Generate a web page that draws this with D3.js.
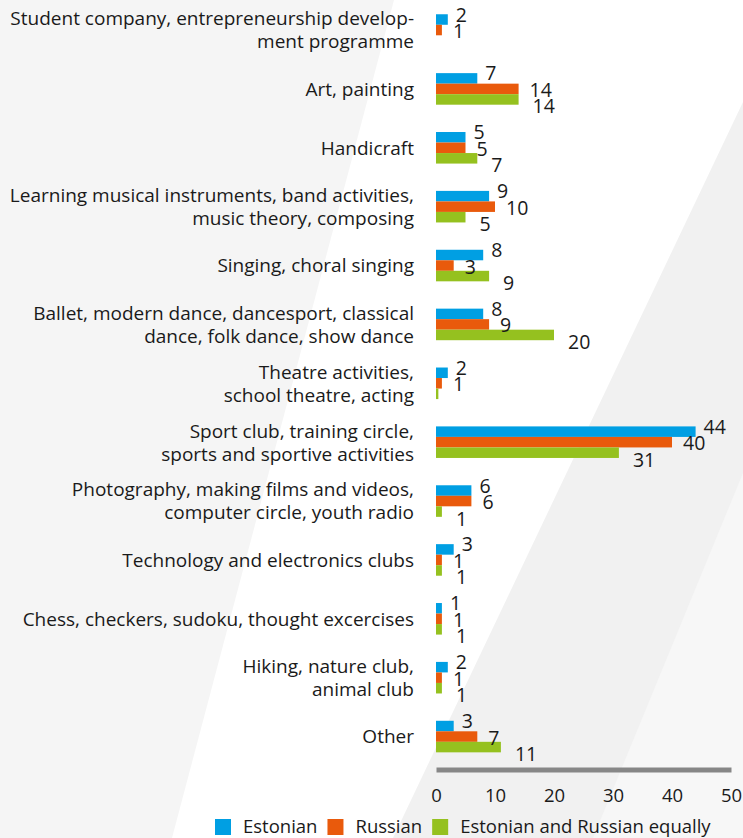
<!DOCTYPE html>
<html>
<head>
<meta charset="utf-8">
<script src="https://cdn.jsdelivr.net/npm/d3@7"></script>
<style>
  html, body { margin: 0; padding: 0; background: #fff; }
  svg { display: block; }
  text { font-family: "Open Sans", "Noto Sans", sans-serif; fill: #1a1a1a; }
</style>
</head>
<body>
<svg id="chart" width="743" height="838"></svg>
<script>
// Hobby groups, one entry per row (lines of each label split by "|")
const categories = [
  "Student company, entrepreneurship develop-|ment programme",
  "Art, painting",
  "Handicraft",
  "Learning musical instruments, band activities,|music theory, composing",
  "Singing, choral singing",
  "Ballet, modern dance, dancesport, classical|dance, folk dance, show dance",
  "Theatre activities,|school theatre, acting",
  "Sport club, training circle,|sports and sportive activities",
  "Photography, making films and videos,|computer circle, youth radio",
  "Technology and electronics clubs",
  "Chess, checkers, sudoku, thought excercises",
  "Hiking, nature club,|animal club",
  "Other"
];

const seriesNames = ["Estonian", "Russian", "Estonian and Russian equally"];

// Values per series (null = no answer in that group)
const estonian = [2, 7, 5, 9, 8, 8, 2, 44, 6, 3, 1, 2, 3];
const russian  = [1, 14, 5, 10, 3, 9, 1, 40, 6, 1, 1, 1, 7];
const equally  = [null, 14, 7, 5, 9, 20, 0.4, 31, 1, 1, 1, 1, 11];

const xTicks = [0, 10, 20, 30, 40, 50];

const colors = ["#009fe3", "#e95a0c", "#95c11f"];

const svg = d3.select("#chart");

// Soft diagonal background panels
const bg = svg.append("g");
bg.append("path").attr("d", "M0,0L394,0L172,838L0,838Z").attr("fill", "#f5f5f5");
bg.append("path").attr("d", "M743,102L393,838L743,838Z").attr("fill", "#f1f1f1");
bg.append("path").attr("d", "M743,473L593,838L743,838Z").attr("fill", "#f7f7f7");

const x = d3.scaleLinear().domain([0, 50]).range([436, 731]);

const y = d3.scaleBand()
  .domain(d3.range(categories.length))
  .range([0.6, 766])
  .paddingInner(0.464)
  .paddingOuter(0.232);

const sub = d3.scaleBand()
  .domain(d3.range(3))
  .range([0, y.bandwidth()]);

const series = [estonian, russian, equally];
const rows = [];
series.forEach((vals, s) => {
  vals.forEach((v, i) => { if (v != null && v > 0) rows.push({ s, i, v }); });
});

// Bars
svg.append("g").selectAll("rect")
  .data(rows)
  .join("rect")
  .attr("x", x(0))
  .attr("y", d => y(d.i) + sub(d.s))
  .attr("width", d => x(d.v) - x(0))
  .attr("height", sub.bandwidth())
  .attr("fill", d => colors[d.s]);

// Value labels, fanned out a little so stacked small values stay readable
// (values that round to 0 are left unlabeled)
const labelDy = [-5, 1, 7];
const labelDx = [8, 11, 14];
svg.append("g").selectAll("text")
  .data(rows.filter(d => Math.round(d.v) > 0))
  .join("text")
  .attr("x", d => x(d.v) + labelDx[d.s])
  .attr("y", d => y(d.i) + sub(d.s) + sub.bandwidth() / 2 + labelDy[d.s])
  .attr("dy", "0.36em")
  .attr("font-size", 19.5)
  .text(d => Math.round(d.v));

// Category labels
const catG = svg.append("g");
categories.forEach((c, i) => {
  const lines = c.split("|");
  const lh = 23;
  const cy = y(i) + y.bandwidth() / 2;
  const t = catG.append("text")
    .attr("text-anchor", "end")
    .attr("font-size", 19);
  lines.forEach((ln, k) => {
    t.append("tspan")
      .attr("x", 414)
      .attr("y", cy + (k - (lines.length - 1) / 2) * lh)
      .attr("dy", "0.36em")
      .text(ln);
  });
});

// X axis: thick grey baseline, no tick marks
const axis = d3.axisBottom(x).tickValues(xTicks).tickSize(0).tickSizeOuter(0).tickPadding(19);
const ax = svg.append("g").attr("transform", "translate(0,769.5)").call(axis);
ax.select(".domain").attr("stroke", "#878787").attr("stroke-width", 5);
ax.selectAll(".tick text")
  .attr("font-size", 18.5)
  .attr("font-family", "'Open Sans', 'Noto Sans', sans-serif")
  .attr("fill", "#1a1a1a");

// Legend
const leg = svg.append("g");
let lx = 215;
seriesNames.forEach((n, s) => {
  leg.append("rect").attr("x", lx).attr("y", 819).attr("width", 16).attr("height", 16).attr("fill", colors[s]);
  const t = leg.append("text").attr("x", lx + 28).attr("y", 833).attr("font-size", 18.5).text(n);
  lx += 28 + t.node().getComputedTextLength() + 10;
});
</script>
</body>
</html>
